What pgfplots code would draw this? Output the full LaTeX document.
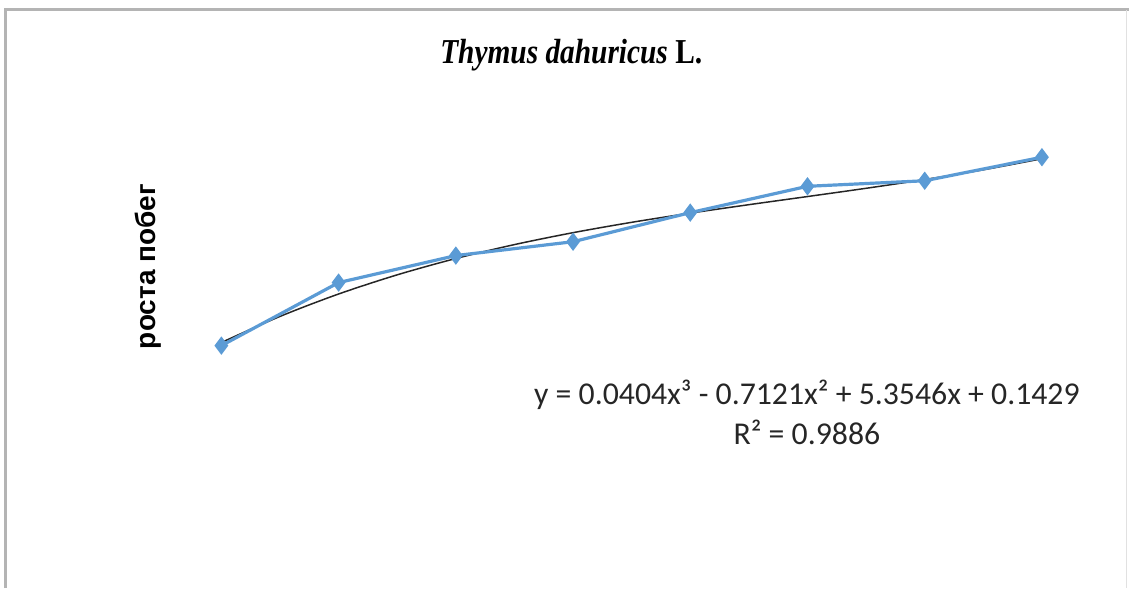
\documentclass[border=0pt]{standalone}
\usepackage{fontspec}
\setmainfont{Liberation Serif}
\newfontfamily\labfont{Liberation Sans}
\newfontfamily\eqfont{Carlito}
\usepackage{pgfplots}
\pgfplotsset{compat=1.18}
\definecolor{serblue}{HTML}{5B9BD5}
\definecolor{framegray}{HTML}{B4B4B4}
\begin{document}
\begin{tikzpicture}[x=0.5pt,y=0.5pt]
\path (0,0) rectangle (1130,589);
\draw[framegray,line width=1.5pt] (6,0) -- (6,579) -- (1130,579);
\draw[framegray!40,line width=0.8pt] (1128,0) -- (1128,579);
\begin{axis}[
  at={(81.5pt,14.5pt)}, anchor=south west,
  scale only axis, width=469.5pt, height=235pt,
  xmin=0.5, xmax=8.5, ymin=-10.82, ymax=23.06,
  hide axis, clip=false,
]
% fitted polynomial trendline (values from the printed equation)
\addplot[black!85, line width=0.75pt, smooth] coordinates {
(1,4.8258) (1.5,6.7089) (2,8.3269) (2.5,9.7100) (3,10.8886) (3.5,11.8930)
(4,12.7533) (4.5,13.5001) (5,14.1634) (5.5,14.7738) (6,15.3613) (6.5,15.9565)
(7,16.5894) (7.5,17.2906) (8,18.0901)};
\addplot[serblue, line width=1.6pt, mark=diamond*, mark size=3.3pt,
  mark options={fill=serblue, draw=serblue}] coordinates {
(1,4.6) (2,9.15) (3,11.1) (4,12.1) (5,14.2) (6,16.1) (7,16.5) (8,18.2)};
\end{axis}
\node[font=\fontsize{17.5}{20}\selectfont] at (572,534)
  {\scalebox{0.84}[1]{\textbf{\textit{Thymus dahuricus}} \textbf{L.}}};
\node[font=\labfont\bfseries\fontsize{14}{16}\selectfont, rotate=90] at (148,322) {роста побег};
\node[font=\eqfont\fontsize{15.9}{19}\selectfont, align=center, text=black!85] at (808,176)
  {y = 0.0404x³ - 0.7121x² + 5.3546x + 0.1429\\[1pt] R² = 0.9886};
\end{tikzpicture}
\end{document}
